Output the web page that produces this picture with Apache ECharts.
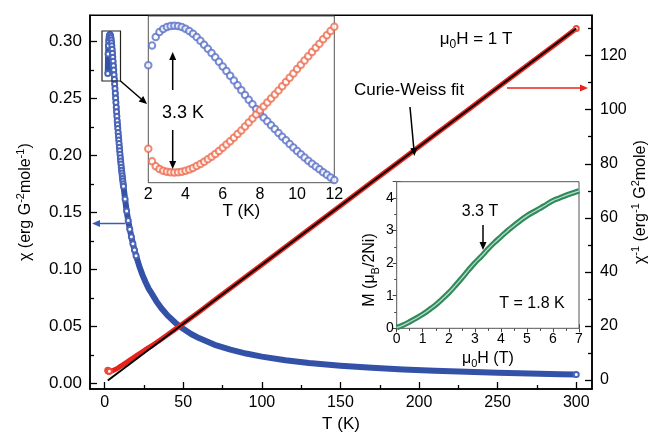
<!DOCTYPE html>
<html><head><meta charset="utf-8">
<script src="https://cdn.jsdelivr.net/npm/echarts@6/dist/echarts.min.js"></script>
<style>html,body{margin:0;padding:0;background:#fff}#c{width:653px;height:439px}</style>
</head><body><div id="c"></div>
<script>
// ---------- data ----------
const T_low = [2.0,2.2,2.4,2.6,2.8,3.0,3.2,3.4,3.6,3.8,4.0,4.2,4.4,4.6,4.8,5.0,5.2,5.4,5.6,5.8,6.0,6.2,6.4,6.6,6.8,7.0,7.2,7.4,7.6,7.8,8.0,8.2,8.4,8.6,8.8,9.0,9.2,9.4,9.6,9.8,10.0,10.2,10.4,10.6,10.8,11.0,11.2,11.4,11.6,11.8,12.0];
const chi_low = [0.2720,0.2890,0.2963,0.3006,0.3032,0.3049,0.3057,0.3060,0.3057,0.3049,0.3034,0.3014,0.2990,0.2962,0.2931,0.2897,0.2862,0.2826,0.2788,0.2749,0.2709,0.2669,0.2628,0.2587,0.2546,0.2505,0.2464,0.2423,0.2383,0.2343,0.2304,0.2270,0.2236,0.2202,0.2169,0.2136,0.2104,0.2072,0.2041,0.2010,0.1980,0.1952,0.1924,0.1897,0.1871,0.1846,0.1822,0.1798,0.1775,0.1752,0.1730];
const invchi_low = [3.676,3.460,3.375,3.327,3.298,3.280,3.271,3.268,3.271,3.280,3.296,3.318,3.344,3.376,3.412,3.452,3.494,3.539,3.587,3.638,3.691,3.747,3.805,3.866,3.928,3.992,4.058,4.127,4.196,4.268,4.340,4.405,4.472,4.541,4.610,4.682,4.753,4.826,4.900,4.975,5.051,5.123,5.198,5.272,5.345,5.417,5.488,5.562,5.634,5.708,5.780];
const T_high = [13,14,15,16,17,18,19,20,22,24,26,28,30,33,36,40,45,50,55,60,70,80,90,100,115,130,150,170,190,210,230,250,270,290,300];
const chi_high = [0.1618,0.1513,0.1429,0.1353,0.1287,0.1225,0.1170,0.1120,0.1030,0.0954,0.0889,0.0831,0.0787,0.0719,0.0661,0.0596,0.0531,0.0478,0.0433,0.0397,0.0338,0.0295,0.0261,0.0234,0.0203,0.0179,0.0155,0.01365,0.0122,0.01102,0.01006,0.00924,0.00855,0.00796,0.00769];
const invchi_high = [6.18,6.61,7.00,7.39,7.77,8.16,8.55,8.93,9.71,10.48,11.25,12.03,12.70,13.91,15.12,16.77,18.85,20.94,23.07,25.20,29.57,33.94,38.30,42.67,49.22,55.77,64.50,73.24,81.97,90.71,99.44,108.2,116.9,125.6,130.0];
const fitT = [2, 300];
const fitInvChi = [-0.13, 130.0];
const H = [0,0.25,0.5,0.75,1,1.25,1.5,1.75,2,2.25,2.5,2.75,3,3.25,3.5,3.75,4,4.25,4.5,4.75,5,5.25,5.5,5.75,6,6.25,6.5,6.75,7];
const M = [0.02,0.10,0.20,0.31,0.43,0.57,0.72,0.90,1.09,1.31,1.54,1.78,2.01,2.21,2.43,2.63,2.81,2.99,3.15,3.31,3.45,3.57,3.68,3.80,3.92,4.00,4.08,4.15,4.22];
// tick labels
const xTicksMain = [0,50,100,150,200,250,300];
const xMinorMain = [25,75,125,175,225,275];
const chiTicks = [0,0.05,0.10,0.15,0.20,0.25,0.30];
const chiMinor = [0.025,0.075,0.125,0.175,0.225,0.275];
const invTicks = [0,20,40,60,80,100,120];
const invMinor = [10,30,50,70,90,110,130];

// ---------- build ----------
const FONT = "'Liberation Sans', Arial, sans-serif";
const mainT = T_low.concat(T_high);
const mainChi = chi_low.concat(chi_high);
const mainInv = invchi_low.concat(invchi_high);
const blueData = mainT.map((t,i)=>({value:[t, mainChi[i]], symbol:(t<=20||t===300)?'emptyCircle':'none'}));
const redData = mainT.map((t,i)=>({value:[t, mainInv[i]], symbol:(t<=3||t===300)?'emptyCircle':'none'}));
const fitData = fitT.map((t,i)=>[t, fitInvChi[i]]);
const inBlue = T_low.map((t,i)=>[t, chi_low[i]]);
const inRed = T_low.map((t,i)=>[t, invchi_low[i]]);
const mh = H.map((h,i)=>[h, M[i]]);

const blk = '#000';
function richSize(sz){
  return {
    a:{fontSize:sz, fontFamily:FONT, color:blk, lineHeight:sz+6},
    p:{fontSize:Math.round(sz*0.68), fontFamily:FONT, color:blk, lineHeight:Math.round(sz*0.68), verticalAlign:'top'},
    s:{fontSize:Math.round(sz*0.68), fontFamily:FONT, color:blk, lineHeight:Math.round(sz*0.68), verticalAlign:'bottom'}
  };
}

function mainX(idx, ticks, len, labels){
  return {gridIndex:0, type:'value', min:-9.3, max:310, position:'bottom',
    axisLine:{show:idx===0, onZero:false, lineStyle:{color:blk, width:1.5}},
    axisTick:{inside:true, length:len, customValues:ticks, lineStyle:{color:blk, width:1.3}},
    axisLabel:{show:labels, customValues:ticks, fontSize:16, fontFamily:FONT, color:blk, margin:6},
    splitLine:{show:false},
    name: labels ? 'T (K)' : '', nameLocation:'middle', nameGap:27, nameMoveOverlap:false,
    nameTextStyle:{fontSize:17, fontFamily:FONT, color:blk}};
}
function mainY(pos, min, max, ticks, len, labels, fmt, name, gap, rich, lsz){
  return {gridIndex:0, type:'value', min:min, max:max, position:pos,
    axisLine:{show:labels, onZero:false, lineStyle:{color:blk, width:1.5}},
    axisTick:{inside:true, length:len, customValues:ticks, lineStyle:{color:blk, width:1.3}},
    axisLabel:{show:labels, customValues:ticks, fontSize:lsz||16, fontFamily:FONT, color:blk, margin:8, formatter:fmt},
    splitLine:{show:false},
    name:name, nameLocation:'middle', nameGap:gap, nameRotate:90, nameMoveOverlap:false,
    nameTextStyle:{fontSize:16, fontFamily:FONT, color:blk, rich:rich}};
}

function arrow(x1,y1,x2,y2,color,head,w){
  head = head||8; w = w||3.5;
  const a = Math.atan2(y2-y1, x2-x1);
  const bx = x2-head*Math.cos(a), by = y2-head*Math.sin(a);
  return [
    {type:'line', z:100, shape:{x1:x1,y1:y1,x2:bx,y2:by}, style:{stroke:color, lineWidth:1.5}},
    {type:'polygon', z:100, shape:{points:[[x2,y2],[bx+w*Math.sin(a), by-w*Math.cos(a)],[bx-w*Math.sin(a), by+w*Math.cos(a)]]}, style:{fill:color}}
  ];
}
function txt(x,y,text,size,rot,rich){
  const o = {type:'text', z:100, x:x, y:y, style:{text:text, fontSize:size, fontFamily:FONT, fill:blk, align:'center', verticalAlign:'middle'}};
  if (rich) o.style.rich = rich;
  if (rot) o.rotation = rot;
  return o;
}

const graphics = [].concat(
  [{type:'rect', z:100, shape:{x:102, y:31, width:18.5, height:50}, style:{fill:'none', stroke:'#222', lineWidth:1.2}}],
  arrow(120.5, 81, 147, 104, blk),
  arrow(172.7, 90, 172.7, 52, blk),
  arrow(172.7, 130, 172.7, 169, blk),
  arrow(125.5, 223.5, 92, 223.5, '#3b5bb5'),
  arrow(507, 88, 588, 88, '#e8241c'),
  arrow(410, 107, 414.5, 156, blk),
  arrow(483, 225, 483, 250, blk),
  [
    txt(183, 113, '3.3 K', 18),
    txt(409, 90, 'Curie-Weiss fit', 17),
    txt(476, 39, '{a|μ}{s|0}{a|H = 1 T}', 17, 0, richSize(17)),
    txt(480, 212, '3.3 T', 16),
    txt(532, 304, 'T = 1.8 K', 16),
    txt(370, 270, '{a|M (μ}{s|B}{a|/2Ni)}', 16, Math.PI/2, richSize(16))
  ]
);

const option = {
  animation:false,
  backgroundColor:'#fff',
  grid:[
    {left:90, top:15.3, width:502, height:373.7, show:true, borderColor:blk, borderWidth:1.5, backgroundColor:'transparent', outerBoundsMode:'none', containLabel:false},
    {left:148.3, top:16, width:186, height:166.7, show:true, borderColor:'#555', borderWidth:1, backgroundColor:'#fff', z:3, outerBoundsMode:'none', containLabel:false},
    {left:396.7, top:181.7, width:182.3, height:146.6, show:true, borderColor:'#555', borderWidth:1, backgroundColor:'#fff', z:3, outerBoundsMode:'none', containLabel:false}
  ],
  xAxis:[
    mainX(0, xTicksMain, 7, true),
    mainX(1, xMinorMain, 4, false),
    {gridIndex:1, type:'value', min:2, max:12, interval:2,
      axisLine:{show:false}, axisTick:{inside:true, length:4, lineStyle:{color:'#444'}},
      minorTick:{show:true, splitNumber:2, length:2.5, lineStyle:{color:'#444'}},
      axisLabel:{fontSize:16, fontFamily:FONT, color:blk, margin:4}, splitLine:{show:false},
      name:'T (K)', nameLocation:'middle', nameGap:20, nameMoveOverlap:false, nameTextStyle:{fontSize:17, fontFamily:FONT, color:blk}},
    {gridIndex:2, type:'value', min:0, max:7, interval:1,
      axisLine:{show:false}, axisTick:{inside:true, length:4, lineStyle:{color:'#444'}},
      minorTick:{show:true, splitNumber:2, length:2.5, lineStyle:{color:'#444'}},
      axisLabel:{fontSize:14, fontFamily:FONT, color:blk, margin:4}, splitLine:{show:false},
      name:'{a|μ}{s|0}{a|H (T)}', nameLocation:'middle', nameGap:19, nameMoveOverlap:false, nameTextStyle:{rich:richSize(16)}},
    {gridIndex:2, type:'value', min:0, max:7, interval:1, position:'top',
      axisLine:{show:false}, axisTick:{inside:true, length:4, lineStyle:{color:'#444'}},
      minorTick:{show:true, splitNumber:2, length:2.5, lineStyle:{color:'#444'}},
      axisLabel:{show:false}, splitLine:{show:false}}
  ],
  yAxis:[
    mainY('left', -0.005, 0.323, chiTicks, 7, true, v=>v.toFixed(2), '{a|χ (erg G}{p|-2}{a|mole}{p|-1}{a|)}', 53, richSize(16), 17),
    mainY('right', -3.3, 134.9, invTicks, 7, true, v=>String(v), '{a|χ}{p|-1}{a| (erg}{p|-1}{a| G}{p|2}{a|mole)}', 38, richSize(16), 16),
    mainY('left', -0.005, 0.323, chiMinor, 4, false, null, '', 0, null),
    mainY('right', -3.3, 134.9, invMinor, 4, false, null, '', 0, null),
    {gridIndex:1, type:'value', min:0.1707, max:0.3144, show:false},
    {gridIndex:1, type:'value', min:3.09, max:5.965, show:false, position:'right'},
    {gridIndex:2, type:'value', min:0, max:4.5, interval:1,
      axisLine:{show:false}, axisTick:{inside:true, length:4, lineStyle:{color:'#444'}},
      minorTick:{show:true, splitNumber:2, length:2.5, lineStyle:{color:'#444'}},
      axisLabel:{fontSize:14, fontFamily:FONT, color:blk, margin:3, showMaxLabel:false}, splitLine:{show:false}},
    {gridIndex:2, type:'value', min:0, max:4.5, interval:1, position:'right',
      axisLine:{show:false}, axisTick:{inside:true, length:4, lineStyle:{color:'#444'}},
      minorTick:{show:true, splitNumber:2, length:2.5, lineStyle:{color:'#444'}},
      axisLabel:{show:false}, splitLine:{show:false}}
  ],
  series:[
    {type:'line', xAxisIndex:0, yAxisIndex:0, data:blueData, smooth:false,
      showAllSymbol:true, symbolSize:5, lineStyle:{color:'#3451a8', width:6, join:'round'},
      itemStyle:{color:'#4a64b8', borderWidth:1}, z:2},
    {type:'line', xAxisIndex:0, yAxisIndex:1, data:redData, smooth:false,
      showAllSymbol:true, symbolSize:5, lineStyle:{color:'#e8231b', width:5, join:'round'},
      itemStyle:{color:'#ee4a3a', borderWidth:1}, z:3},
    {type:'line', xAxisIndex:0, yAxisIndex:1, data:fitData, showSymbol:false,
      lineStyle:{color:'#000', width:2}, z:4},
    {type:'scatter', xAxisIndex:2, yAxisIndex:4, data:inBlue, symbol:'emptyCircle', symbolSize:6.5,
      itemStyle:{color:'#5a70c8', borderWidth:1}, z:5},
    {type:'scatter', xAxisIndex:2, yAxisIndex:5, data:inRed, symbol:'emptyCircle', symbolSize:6.5,
      itemStyle:{color:'#ef6b4d', borderWidth:1}, z:5},
    {type:'line', xAxisIndex:3, yAxisIndex:6, data:mh, smooth:0.4, showSymbol:false,
      lineStyle:{color:'#2f8a5c', width:5.5}, z:5},
    {type:'line', xAxisIndex:3, yAxisIndex:6, data:mh, smooth:0.4, showSymbol:false,
      lineStyle:{color:'#b9dcc7', width:1.3}, z:6}
  ],
  graphic:graphics
};
const chart = echarts.init(document.getElementById('c'), null, {renderer:'canvas'});
chart.setOption(option);
</script>
</body></html>
